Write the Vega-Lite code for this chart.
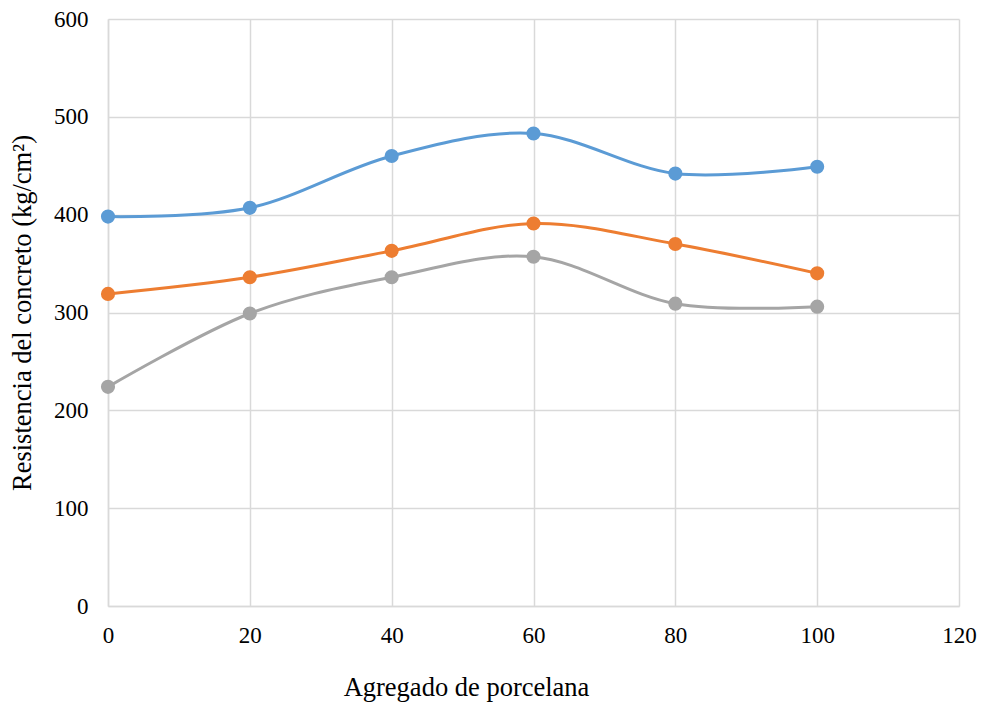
{
  "$schema": "https://vega.github.io/schema/vega-lite/v6.json",
  "width": 851,
  "height": 587,
  "autosize": {"type": "none"},
  "padding": {"left": 108, "top": 19, "right": 28, "bottom": 100},
  "background": "white",
  "config": {
    "view": {"stroke": null},
    "font": "Liberation Serif"
  },
  "data": {
    "values": [
      {"x": 0, "y": 398, "s": "A"}, {"x": 20, "y": 407, "s": "A"}, {"x": 40, "y": 460, "s": "A"},
      {"x": 60, "y": 483, "s": "A"}, {"x": 80, "y": 442, "s": "A"}, {"x": 100, "y": 449, "s": "A"},
      {"x": 0, "y": 319, "s": "B"}, {"x": 20, "y": 336, "s": "B"}, {"x": 40, "y": 363, "s": "B"},
      {"x": 60, "y": 391, "s": "B"}, {"x": 80, "y": 370, "s": "B"}, {"x": 100, "y": 340, "s": "B"},
      {"x": 0, "y": 224, "s": "C"}, {"x": 20, "y": 299, "s": "C"}, {"x": 40, "y": 336, "s": "C"},
      {"x": 60, "y": 357, "s": "C"}, {"x": 80, "y": 309, "s": "C"}, {"x": 100, "y": 306, "s": "C"}
    ]
  },
  "encoding": {
    "x": {
      "field": "x", "type": "quantitative",
      "scale": {"domain": [0, 120], "nice": false},
      "axis": {
        "title": "Agregado de porcelana",
        "values": [0, 20, 40, 60, 80, 100, 120],
        "grid": true, "gridColor": "#D9D9D9", "gridWidth": 1.5,
        "domainColor": "#D9D9D9", "domainWidth": 1.5,
        "ticks": false, "labelPadding": 18, "labelFlush": false,
        "labelFont": "Liberation Serif", "labelFontSize": 23, "labelColor": "#000000",
        "titleFont": "Liberation Serif", "titleFontSize": 26.5, "titleFontWeight": "normal", "titleColor": "#000000",
        "titleX": 358, "titlePadding": 27
      }
    },
    "y": {
      "field": "y", "type": "quantitative",
      "scale": {"domain": [0, 600], "nice": false},
      "axis": {
        "title": "Resistencia del concreto (kg/cm²)",
        "values": [0, 100, 200, 300, 400, 500, 600],
        "grid": true, "gridColor": "#D9D9D9", "gridWidth": 1.5,
        "domainColor": "#D9D9D9", "domainWidth": 1.5,
        "ticks": false, "labelPadding": 20, "labelFlush": false,
        "labelFont": "Liberation Serif", "labelFontSize": 23, "labelColor": "#000000",
        "titleFont": "Liberation Serif", "titleFontSize": 26.5, "titleFontWeight": "normal", "titleColor": "#000000",
        "titlePadding": 17
      }
    },
    "color": {
      "field": "s", "type": "nominal",
      "scale": {"domain": ["A", "B", "C"], "range": ["#5B9BD5", "#ED7D31", "#A5A5A5"]},
      "legend": null
    }
  },
  "layer": [
    {"mark": {"type": "line", "interpolate": "cardinal", "strokeWidth": 3}},
    {"mark": {"type": "point", "filled": true, "size": 200, "opacity": 1}}
  ]
}
